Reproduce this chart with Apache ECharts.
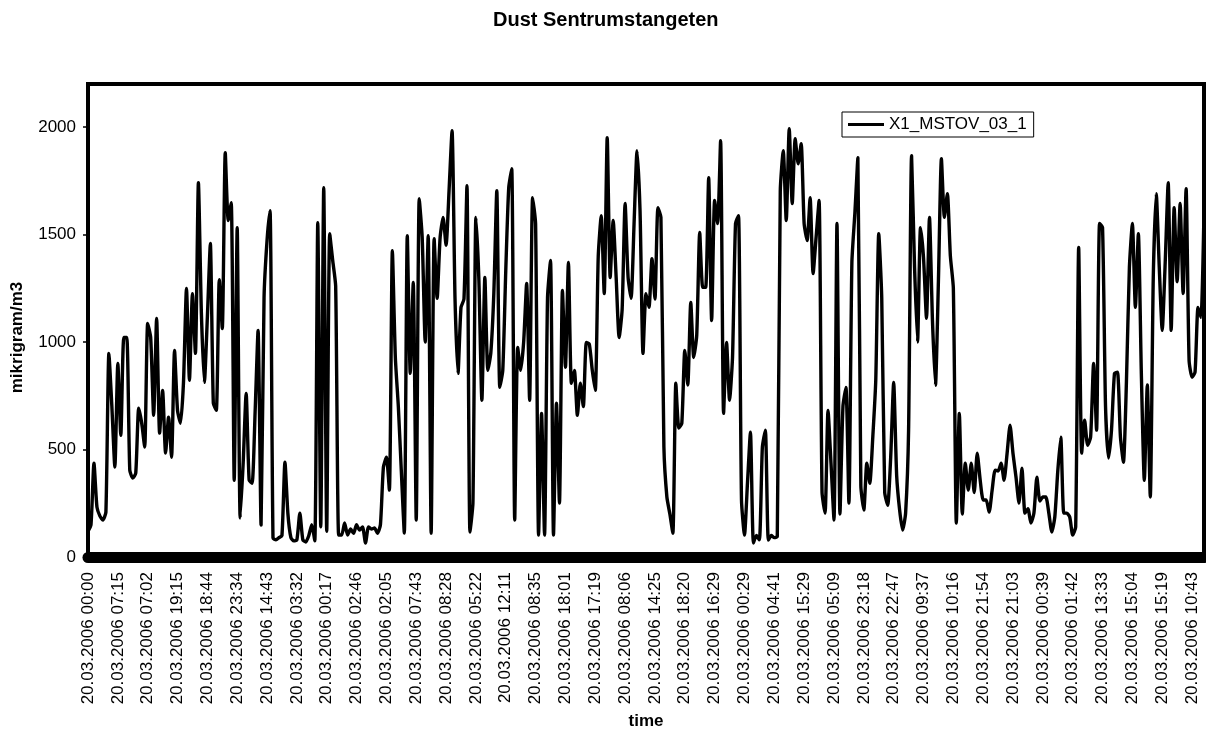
<!DOCTYPE html>
<html>
<head>
<meta charset="utf-8">
<script src="https://cdn.jsdelivr.net/npm/echarts@6/dist/echarts.min.js"></script>
<style>
html,body{margin:0;padding:0;background:#fff}
#c{width:1206px;height:731px}
</style>
</head>
<body>
<div id="c"></div>
<script>
const chartTitle = 'Dust Sentrumstangeten';
const seriesName = 'X1_MSTOV_03_1';
const yAxisName = 'mikrigram/m3';
const xAxisName = 'time';

// one tick label every 10 samples
const tickLabels = [
  '20.03.2006 00:00','20.03.2006 07:15','20.03.2006 07:02','20.03.2006 19:15','20.03.2006 18:44',
  '20.03.2006 23:34','20.03.2006 14:43','20.03.2006 03:32','20.03.2006 00:17','20.03.2006 02:46',
  '20.03.2006 02:05','20.03.2006 07:43','20.03.2006 08:28','20.03.2006 05:22','20.03.2006 12:11',
  '20.03.2006 08:35','20.03.2006 18:01','20.03.2006 17:19','20.03.2006 08:06','20.03.2006 14:25',
  '20.03.2006 18:20','20.03.2006 16:29','20.03.2006 00:29','20.03.2006 04:41','20.03.2006 15:29',
  '20.03.2006 05:09','20.03.2006 23:18','20.03.2006 22:47','20.03.2006 09:37','20.03.2006 10:16',
  '20.03.2006 21:54','20.03.2006 21:03','20.03.2006 00:39','20.03.2006 01:42','20.03.2006 13:33',
  '20.03.2006 15:04','20.03.2006 15:19','20.03.2006 10:43'
];
const yTicks = [0, 500, 1000, 1500, 2000];

// dust concentration (mikrigram/m3)
const dustPart1 = [120,150,436,232,190,172,209,947,700,418, 900,566,1021,1021,404,367,390,692,622,511,
  1086,1021,659,1110,576,775,483,650,464,961, 682,622,812,1249,822,1225,947,1741,1133,812,
  1114,1458,715,682,1290,1063,1880,1565,1648,357, 1532,181,436,761,357,343,673,1054,149,1207,
  1472,1611];
const dustPart2 = [88,80,90,100,441,200,90,75,80,204, 80,70,100,150,75,1555,140,1718,120,1504,
  1380,1260,102,102,158,102,130,110,150,125, 140,65,140,130,135,110,150,418,464,311,
  1425,928,700,400,111,1495,854,1277,172,1667, 1486,1000,1495,111,1481,1203,1486,1579,1450,1704];
const dustPart3 = [1983,1200,854,1161,1200,1727,116,251,1579,1286, 729,1300,868,950,1225,1704,789,868,1330,1718,
  1806,172,975,868,1000,1272,729,1671,1550,102, 668,102,1207,1379,102,715,251,1240,882,1370,
  808,868,659,808,700,998,990,868,775,1400, 1588,1225,1950,1300,1565,1300,1021,1150,1644,1300,
  1203,1550,1890,1611];
const dustPart4 = [947,1225,1161,1388,1200,1625,1580,511,279,200,111, 808,600,622,961,800,1184,928,1031,1509,1254,
  1254,1764,1100,1658,1551,1936,668,998,729,930, 1551,1588,265,102,343,580,65,100,80,511,
  590,79,100,90,95,1704,1890,1565,1992,1644, 1945,1829,1922,1550,1472,1671,1318,1486,1658,300,
  204];
const dustPart5 = [682,436,172,1551,200,700,789,251,1370,1600, 1857,330,218,436,343,557,822,1504,1207,300,
  240,464,812,380,218,125,204,590,1866,1347, 1000,1532,1393,1110,1579,1100,799,1286,1852,1580,
  1690,1400,1250,158,668,200,436,311,436,300, 483,357,265,265,209,311,404,400,436,357,
  480,613];
const dustPart6 = [480,371,251,413,204,225,158,204,371,260, 279,279,204,116,186,400,557,204,204,186,
  102,140,1440,483,636,520,557,900,590,1551, 1532,700,460,590,854,860,557,441,812,1347,
  1551,1161,1504,854,357,800,279,1300,1690,1350, 1054,1370,1741,1054,1625,1280,1644,1225,1713,915,
  836,860,1161,1114,1611];

const values = [].concat(dustPart1, dustPart2, dustPart3, dustPart4, dustPart5, dustPart6);
const categories = values.map((v, i) => (i % 10 === 0 && tickLabels[i / 10]) ? tickLabels[i / 10] : '#' + i);

const FONT = '"Liberation Sans", Arial, Helvetica, sans-serif';
const chart = echarts.init(document.getElementById('c'), null, {renderer: 'canvas'});
chart.setOption({
  animation: false,
  backgroundColor: '#ffffff',
  textStyle: {fontFamily: FONT, color: '#000'},
  title: {
    text: chartTitle, left: 493, top: 10, padding: 0,
    textStyle: {fontSize: 20, fontWeight: 'bold', color: '#000', fontFamily: FONT}
  },
  legend: {
    data: [seriesName], left: 842, top: 112,
    icon: 'rect', itemWidth: 36, itemHeight: 3, itemGap: 0,
    padding: [3, 7, 3, 6], borderColor: '#000', borderWidth: 1,
    backgroundColor: '#fff',
    textStyle: {fontSize: 17, color: '#000', lineHeight: 19, fontFamily: FONT}
  },
  grid: {
    left: 88, right: 2, top: 84, bottom: 174,
    show: true, borderColor: '#000', borderWidth: 4,
    outerBoundsMode: 'none', containLabel: false
  },
  xAxis: {
    type: 'category', data: categories, boundaryGap: false,
    axisLine: {show: true, lineStyle: {color: '#000', width: 11}},
    axisTick: {show: false},
    splitLine: {show: false},
    axisLabel: {interval: 9, rotate: 90, margin: 15, fontSize: 17, color: '#000', fontFamily: FONT},
    name: xAxisName, nameLocation: 'middle', nameGap: 156,
    nameTextStyle: {fontSize: 17, fontWeight: 'bold', color: '#000', fontFamily: FONT}
  },
  yAxis: {
    type: 'value', min: 0, max: 2200, interval: 500,
    axisLine: {show: false},
    axisTick: {show: true, length: 5, customValues: yTicks, lineStyle: {color: '#000', width: 1.5}},
    splitLine: {show: false},
    axisLabel: {
      customValues: yTicks, margin: 12, fontSize: 17, color: '#000', fontFamily: FONT,
      formatter: (v) => String(v)
    },
    name: yAxisName, nameLocation: 'middle', nameGap: 62,
    nameTextStyle: {fontSize: 17, fontWeight: 'bold', color: '#000', fontFamily: FONT, padding: [0, 34, 0, 0]}
  },
  series: [{
    name: seriesName, type: 'line', data: values,
    showSymbol: false, symbol: 'none', smooth: 0.2,
    lineStyle: {color: '#000', width: 3.4, join: 'round', cap: 'round'},
    itemStyle: {color: '#000'}
  }]
});
</script>
</body>
</html>
